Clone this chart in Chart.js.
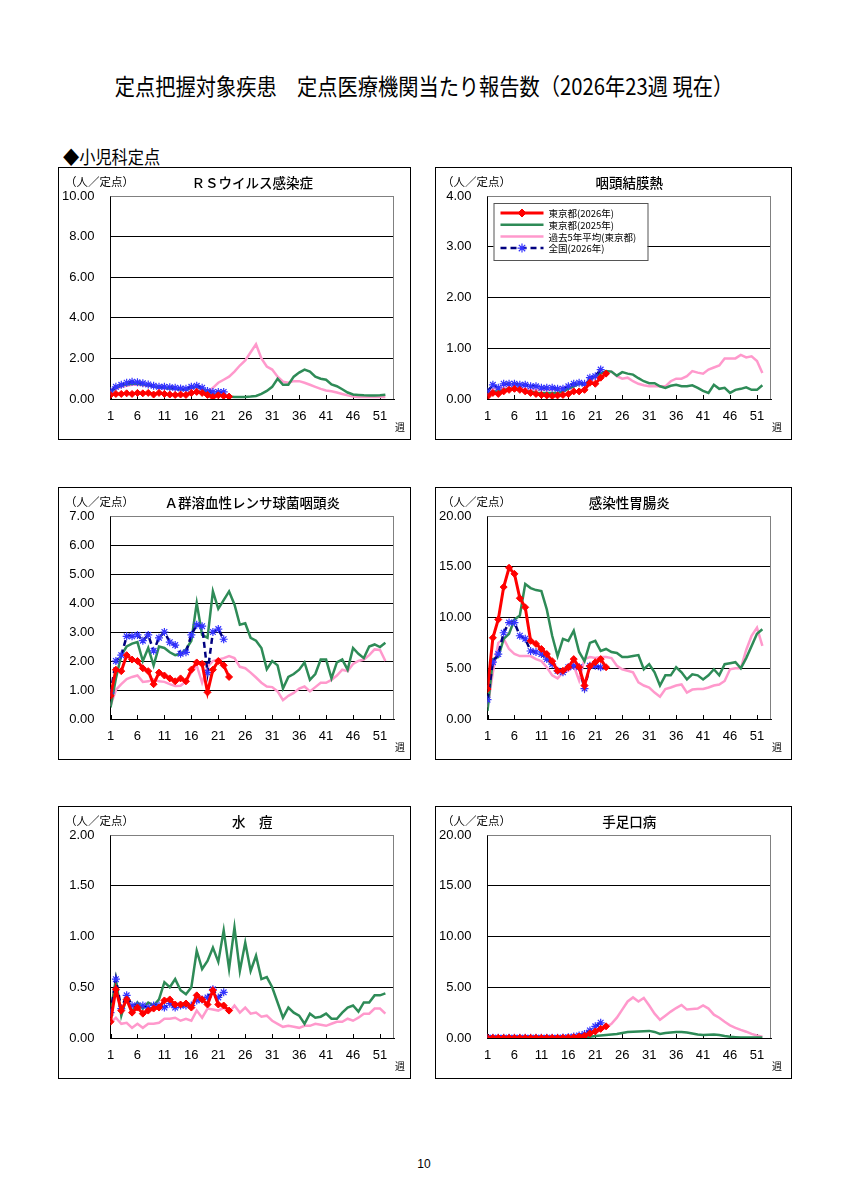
<!DOCTYPE html>
<html lang="ja">
<head>
<meta charset="utf-8">
<title>定点把握対象疾患 定点医療機関当たり報告数</title>
<script src="https://cdn.jsdelivr.net/npm/chart.js@4.4.1/dist/chart.umd.min.js"></script>
<style>
  html, body { margin: 0; padding: 0; background: #fff; }
  body { width: 848px; height: 1200px; position: relative; overflow: hidden;
         font-family: "Noto Sans CJK JP", "Noto Sans", sans-serif; color: #000; }
  #pageTitle { position: absolute; left: 0; top: 68px; width: 848px; text-align: center;
               font-size: 23px; font-weight: 400; transform: scaleX(0.88); transform-origin: 424px 0; white-space: nowrap; }
  #section { position: absolute; left: 63px; top: 143px; font-size: 18px; font-weight: 400;
             transform: scaleX(0.9); transform-origin: 0 0; white-space: nowrap; }
  #pageNo { position: absolute; left: 0; top: 1157px; width: 848px; text-align: center;
            font-family: "Liberation Sans", Arial, sans-serif; font-size: 12px; }
  .panel { position: absolute; }
  .panel canvas { display: block; outline: 1.5px solid #000; outline-offset: -1.5px; }
</style>
</head>
<body>
<div id="pageTitle">定点把握対象疾患　定点医療機関当たり報告数（2026年23週 現在）</div>
<div id="section">◆小児科定点</div>
<div class="panel" style="left:58px;top:167px"><canvas id="c1" width="353" height="273"></canvas></div>
<div class="panel" style="left:435px;top:167px"><canvas id="c2" width="357" height="273"></canvas></div>
<div class="panel" style="left:58px;top:487px"><canvas id="c3" width="353" height="273"></canvas></div>
<div class="panel" style="left:435px;top:487px"><canvas id="c4" width="357" height="273"></canvas></div>
<div class="panel" style="left:58px;top:806px"><canvas id="c5" width="353" height="273"></canvas></div>
<div class="panel" style="left:435px;top:806px"><canvas id="c6" width="357" height="273"></canvas></div>
<div id="pageNo">10</div>

<script>
  // week numbers and labelled ticks
  const weeks = [1,2,3,4,5,6,7,8,9,10,11,12,13,14,15,16,17,18,19,20,21,22,23,24,25,26,
    27,28,29,30,31,32,33,34,35,36,37,38,39,40,41,42,43,44,45,46,47,48,49,50,51,52];
  const weekTicks = [1, 6, 11, 16, 21, 26, 31, 36, 41, 46, 51];

  const seriesLabels = ["東京都(2026年)", "東京都(2025年)", "過去5年平均(東京都)", "全国(2026年)"];

  // RSウイルス感染症
  const rsTokyo2026 = [0.20,0.25,0.25,0.28,0.25,0.30,0.28,0.30,0.22,0.30,0.25,0.22,0.20,0.22,0.20,0.30,0.35,0.30,0.20,0.10,0.18,0.15,0.12];
  const rsTokyo2025 = [0.35,0.55,0.65,0.72,0.75,0.75,0.72,0.68,0.62,0.57,0.55,0.52,0.50,0.48,0.45,0.55,0.60,0.50,0.35,0.25,
    0.20,0.15,0.12,0.10,0.10,0.10,0.12,0.15,0.25,0.40,0.60,1.00,0.70,0.70,1.10,1.30,1.45,1.35,1.10,1.00,
    0.95,0.72,0.63,0.48,0.32,0.22,0.20,0.18,0.17,0.17,0.18,0.21];
  const rsAvg5 = [0.35,0.50,0.60,0.65,0.70,0.70,0.68,0.65,0.60,0.55,0.52,0.50,0.48,0.45,0.45,0.50,0.55,0.50,0.35,0.55,
    0.80,0.95,1.10,1.35,1.65,1.90,2.30,2.70,2.00,1.60,1.45,1.10,0.85,0.80,0.88,0.88,0.80,0.70,0.60,0.50,
    0.42,0.38,0.32,0.25,0.18,0.12,0.10,0.10,0.10,0.10,0.10,0.10];
  const rsNational = [0.40,0.60,0.70,0.80,0.85,0.82,0.78,0.72,0.65,0.60,0.60,0.58,0.55,0.52,0.50,0.60,0.65,0.55,0.40,0.35,0.35,0.35];

  // 咽頭結膜熱
  const pcfTokyo2026 = [0.05,0.12,0.10,0.15,0.18,0.20,0.18,0.15,0.12,0.10,0.08,0.07,0.06,0.07,0.08,0.10,0.15,0.15,0.18,0.32,0.30,0.42,0.50];
  const pcfTokyo2025 = [0.10,0.15,0.15,0.18,0.20,0.20,0.18,0.15,0.15,0.12,0.12,0.12,0.12,0.12,0.15,0.20,0.25,0.30,0.28,0.38,
    0.45,0.50,0.55,0.54,0.46,0.53,0.50,0.48,0.41,0.35,0.31,0.31,0.25,0.22,0.26,0.28,0.25,0.25,0.27,0.22,
    0.16,0.12,0.28,0.20,0.22,0.12,0.18,0.20,0.23,0.18,0.18,0.27];
  const pcfAvg5 = [0.15,0.20,0.22,0.22,0.22,0.20,0.20,0.20,0.18,0.18,0.18,0.18,0.18,0.20,0.22,0.25,0.28,0.30,0.30,0.35,
    0.42,0.50,0.52,0.54,0.45,0.40,0.42,0.35,0.30,0.27,0.25,0.25,0.25,0.25,0.35,0.40,0.40,0.45,0.55,0.52,
    0.50,0.58,0.62,0.66,0.80,0.80,0.80,0.87,0.82,0.84,0.75,0.51];
  const pcfNational = [0.15,0.28,0.22,0.30,0.30,0.30,0.28,0.28,0.25,0.25,0.22,0.22,0.22,0.20,0.20,0.25,0.30,0.32,0.30,0.42,0.45,0.58];

  // A群溶血性レンサ球菌咽頭炎
  const gasTokyo2026 = [0.80,1.70,1.65,2.20,2.05,2.00,1.75,1.65,1.20,1.60,1.50,1.40,1.30,1.40,1.30,1.70,1.95,1.90,0.92,1.70,2.00,1.85,1.45];
  const gasTokyo2025 = [0.40,1.40,2.20,2.50,2.60,2.65,2.00,2.45,1.85,2.50,2.45,2.30,2.20,2.25,2.40,2.70,4.00,2.90,2.80,4.40,
    3.80,4.10,4.40,3.95,3.25,3.30,2.80,2.70,2.45,1.72,2.00,1.85,1.05,1.45,1.55,1.70,1.95,1.35,1.55,2.05,
    2.05,1.40,1.95,2.05,1.70,2.45,2.25,2.10,2.50,2.57,2.48,2.63];
  const gasAvg5 = [0.45,1.00,1.20,1.38,1.45,1.50,1.28,1.30,1.37,1.30,1.28,1.20,1.14,1.15,1.30,1.60,1.85,1.25,1.80,2.00,
    2.05,2.10,2.17,2.10,1.80,1.75,1.60,1.43,1.25,1.12,1.10,0.95,0.65,0.80,0.90,1.05,1.12,0.95,1.10,1.25,
    1.25,1.35,1.50,1.70,1.65,1.90,2.00,2.05,2.20,2.40,2.38,2.00];
  const gasNational = [0.90,2.00,2.20,2.85,2.85,2.90,2.70,2.90,2.35,2.80,3.00,2.65,2.55,2.25,2.30,2.90,3.25,3.20,1.60,3.00,3.10,2.75];

  // 感染性胃腸炎
  const geTokyo2026 = [2.95,8.00,9.80,13.00,14.90,14.30,11.90,11.00,7.70,7.40,6.90,6.40,5.70,4.75,4.75,5.10,5.90,5.10,3.30,5.20,5.60,5.90,5.10];
  const geTokyo2025 = [0.80,5.90,6.10,7.90,8.40,9.80,10.20,13.30,12.90,12.70,12.60,10.80,8.20,6.20,7.90,7.70,8.70,6.60,5.70,7.50,
    7.70,6.70,6.90,6.60,6.50,6.10,6.10,6.20,6.30,4.90,5.40,4.60,3.30,4.30,4.30,5.10,4.60,3.90,4.40,4.30,
    3.90,4.30,4.90,4.30,5.40,5.50,5.60,5.00,6.00,7.20,8.40,8.85];
  const geAvg5 = [1.15,4.60,7.50,7.90,6.90,6.40,6.20,6.20,6.20,5.90,5.70,5.10,4.30,4.00,4.60,4.75,5.25,3.80,5.90,6.10,
    6.00,6.10,6.10,6.00,5.25,4.90,4.75,4.60,3.60,3.30,3.10,2.60,2.20,2.95,3.10,3.30,3.40,2.60,2.90,2.95,
    2.95,3.10,3.30,3.40,3.75,4.90,5.00,5.00,6.80,8.20,9.00,7.20];
  const geNational = [1.90,5.60,6.40,8.50,9.50,9.50,8.20,7.90,6.70,6.60,6.40,5.90,5.40,4.75,4.60,5.10,5.25,5.10,3.00,5.25,5.25,5.10];

  // 水痘
  const vzTokyo2026 = [0.16,0.48,0.27,0.38,0.25,0.30,0.24,0.27,0.29,0.30,0.37,0.38,0.33,0.33,0.34,0.30,0.42,0.38,0.33,0.47,0.33,0.32,0.27];
  const vzTokyo2025 = [0.25,0.58,0.22,0.40,0.25,0.35,0.29,0.35,0.32,0.38,0.55,0.50,0.58,0.47,0.43,0.50,0.86,0.68,0.76,0.89,
    0.75,1.06,0.68,1.09,0.66,0.94,0.66,0.81,0.58,0.60,0.50,0.35,0.20,0.30,0.25,0.22,0.14,0.24,0.20,0.21,
    0.24,0.19,0.19,0.25,0.30,0.32,0.26,0.35,0.35,0.42,0.42,0.44];
  const vzAvg5 = [0.15,0.20,0.14,0.15,0.10,0.14,0.10,0.14,0.14,0.15,0.19,0.19,0.20,0.17,0.19,0.17,0.27,0.20,0.29,0.28,
    0.27,0.30,0.25,0.32,0.25,0.30,0.24,0.25,0.21,0.22,0.17,0.14,0.11,0.12,0.11,0.10,0.12,0.12,0.14,0.13,
    0.12,0.14,0.16,0.16,0.19,0.17,0.20,0.24,0.24,0.29,0.29,0.24];
  const vzNational = [0.25,0.58,0.29,0.42,0.32,0.32,0.32,0.30,0.32,0.32,0.30,0.34,0.30,0.32,0.32,0.32,0.37,0.38,0.40,0.48,0.40,0.45];

  // 手足口病
  const hfTokyo2026 = [0.02,0.02,0.02,0.02,0.02,0.02,0.02,0.02,0.02,0.02,0.02,0.02,0.02,0.02,0.03,0.05,0.08,0.15,0.22,0.45,0.65,0.90,1.15];
  const hfTokyo2025 = [0.02,0.02,0.02,0.02,0.02,0.02,0.02,0.02,0.02,0.02,0.02,0.02,0.02,0.02,0.02,0.03,0.04,0.05,0.08,0.12,
    0.20,0.25,0.30,0.35,0.40,0.50,0.58,0.62,0.65,0.67,0.70,0.60,0.40,0.50,0.55,0.60,0.60,0.55,0.45,0.35,
    0.30,0.32,0.35,0.30,0.20,0.12,0.08,0.05,0.05,0.04,0.05,0.05];
  const hfAvg5 = [0.05,0.05,0.05,0.05,0.05,0.05,0.05,0.05,0.06,0.06,0.07,0.08,0.10,0.12,0.15,0.18,0.22,0.28,0.35,0.42,
    0.55,0.75,1.05,1.40,2.00,2.80,3.60,4.00,3.60,3.95,3.20,2.40,1.80,2.20,2.60,2.95,3.25,2.80,2.85,2.90,
    3.20,2.90,2.30,2.00,1.60,1.25,1.00,0.80,0.62,0.40,0.25,0.13];
  const hfNational = [0.03,0.03,0.03,0.03,0.03,0.03,0.03,0.03,0.03,0.03,0.03,0.03,0.03,0.03,0.04,0.08,0.15,0.25,0.40,0.75,1.15,1.50];

  const panels = [
    { id: "c1", title: "ＲＳウイルス感染症", yMax: 10, yStep: 2, legend: false,
      series: [rsTokyo2026, rsTokyo2025, rsAvg5, rsNational] },
    { id: "c2", title: "咽頭結膜熱", yMax: 4, yStep: 1, legend: true,
      series: [pcfTokyo2026, pcfTokyo2025, pcfAvg5, pcfNational] },
    { id: "c3", title: "Ａ群溶血性レンサ球菌咽頭炎", yMax: 7, yStep: 1, legend: false,
      series: [gasTokyo2026, gasTokyo2025, gasAvg5, gasNational] },
    { id: "c4", title: "感染性胃腸炎", yMax: 20, yStep: 5, legend: false,
      series: [geTokyo2026, geTokyo2025, geAvg5, geNational] },
    { id: "c5", title: "水　痘", yMax: 2, yStep: 0.5, legend: false,
      series: [vzTokyo2026, vzTokyo2025, vzAvg5, vzNational] },
    { id: "c6", title: "手足口病", yMax: 20, yStep: 5, legend: false,
      series: [hfTokyo2026, hfTokyo2025, hfAvg5, hfNational] }
  ];

  const jpFont = '"Noto Sans CJK JP", sans-serif';
  const numFont = '"Liberation Sans", Arial, sans-serif';

  const toPoints = (vals) => vals.map((v, i) => ({ x: weeks[i], y: v }));

  // line styles, in legend order
  const styles = [
    { borderColor: "#ff0000", backgroundColor: "#ff0000", borderWidth: 3, pointStyle: "rectRot",
      pointRadius: 3.5, pointBorderWidth: 1, order: 0 },
    { borderColor: "#2e8b57", backgroundColor: "#2e8b57", borderWidth: 2.5, pointRadius: 0, order: 2 },
    { borderColor: "#ff99cc", backgroundColor: "#ff99cc", borderWidth: 2.5, pointRadius: 0, order: 3 },
    { borderColor: "#000080", backgroundColor: "#3333ff", borderWidth: 2.5, borderDash: [6, 4],
      pointStyle: "star", pointRadius: 4, pointBorderColor: "#3333ff", pointBorderWidth: 1.2, order: 1 }
  ];

  // titles, unit, week label, inner ticks, plot frame, legend
  const panelDecor = {
    id: "panelDecor",
    beforeDatasetsDraw(chart) {
      const a = chart.chartArea, c = chart.ctx;
      c.save();
      c.strokeStyle = "#808080";
      c.lineWidth = 1;
      c.beginPath();
      c.moveTo(a.left, a.top + 0.5);
      c.lineTo(a.right - 0.5, a.top + 0.5);
      c.lineTo(a.right - 0.5, a.bottom);
      c.stroke();
      c.strokeStyle = "#000";
      const xs = chart.scales.x;
      weekTicks.forEach((w) => {
        const px = Math.round(xs.getPixelForValue(w)) + 0.5;
        c.beginPath();
        c.moveTo(px, a.bottom);
        c.lineTo(px, a.bottom - 4);
        c.stroke();
      });
      c.restore();
    },
    afterDraw(chart, args, opts) {
      const a = chart.chartArea, c = chart.ctx;
      c.save();
      c.fillStyle = "#000";
      c.textBaseline = "middle";
      c.font = "11.5px " + jpFont;
      c.textAlign = "left";
      c.fillText("（人／定点）", 7, 15);
      c.font = "500 13.5px " + jpFont;
      c.textAlign = "center";
      c.fillText(opts.title, (a.left + a.right) / 2, 16);
      c.font = "10px " + jpFont;
      c.fillText("週", a.right + 6, a.bottom + 28);
      if (opts.legend) drawLegend(chart, a.left + 6, a.top + 7);
      c.restore();
    }
  };

  function drawLegend(chart, x0, y0) {
    const c = chart.ctx;
    const w = 154, h = 57;
    c.fillStyle = "#fff";
    c.fillRect(x0, y0, w, h);
    c.strokeStyle = "#555";
    c.lineWidth = 1;
    c.strokeRect(x0 + 0.5, y0 + 0.5, w, h);
    c.font = "9.5px " + jpFont;
    c.textAlign = "left";
    c.textBaseline = "middle";
    chart.data.datasets.forEach((ds, i) => {
      const y = y0 + 10 + i * 11.7;
      c.save();
      c.strokeStyle = ds.borderColor;
      c.lineWidth = ds.borderWidth;
      c.setLineDash(ds.borderDash || []);
      c.beginPath();
      c.moveTo(x0 + 7, y);
      c.lineTo(x0 + 50, y);
      c.stroke();
      c.setLineDash([]);
      if (ds.pointRadius > 0) {
        c.fillStyle = ds.backgroundColor;
        c.strokeStyle = ds.pointBorderColor || ds.borderColor;
        c.lineWidth = ds.pointBorderWidth;
        Chart.helpers.drawPoint(c, { pointStyle: ds.pointStyle, radius: ds.pointRadius + 0.5,
          borderWidth: ds.pointBorderWidth, rotation: 0 }, x0 + 28.5, y);
      }
      c.restore();
      c.fillStyle = "#000";
      c.fillText(ds.label, x0 + 55, y + 0.5);
    });
  }

  window.addEventListener("load", () => {
    panels.forEach((p) => {
      const canvas = document.getElementById(p.id);
      const W = canvas.width;
      new Chart(canvas, {
        type: "line",
        data: {
          datasets: p.series.map((vals, i) => Object.assign({
            label: seriesLabels[i],
            data: toPoints(vals),
            tension: 0,
            fill: false
          }, styles[i]))
        },
        options: {
          responsive: false,
          animation: false,
          events: [],
          layout: { padding: { left: 0, top: 29, right: W - 336, bottom: 0 } },
          plugins: {
            legend: { display: false },
            tooltip: { enabled: false },
            panelDecor: { title: p.title, legend: p.legend }
          },
          scales: {
            x: {
              type: "linear",
              min: 1,
              max: 53.6,
              afterBuildTicks: (s) => { s.ticks = weekTicks.map((v) => ({ value: v })); },
              afterFit: (s) => { s.height = 41; },
              grid: { display: false, drawTicks: false },
              border: { display: true, color: "#000", width: 1 },
              ticks: { color: "#000", font: { family: numFont, size: 13 }, padding: 10,
                maxRotation: 0, autoSkip: false }
            },
            y: {
              min: 0,
              max: p.yMax,
              afterFit: (s) => { s.width = 52.5; },
              grid: {
                drawTicks: false,
                lineWidth: 1,
                color: (ctx) => (ctx.tick && ctx.tick.value === p.yMax ? "#808080" : "#000")
              },
              border: { display: true, color: "#000", width: 1 },
              ticks: { stepSize: p.yStep, color: "#000", padding: 16,
                font: { family: numFont, size: 13 },
                callback: (v) => Number(v).toFixed(2) }
            }
          }
        },
        plugins: [panelDecor]
      });
    });
  });
</script>
</body>
</html>
